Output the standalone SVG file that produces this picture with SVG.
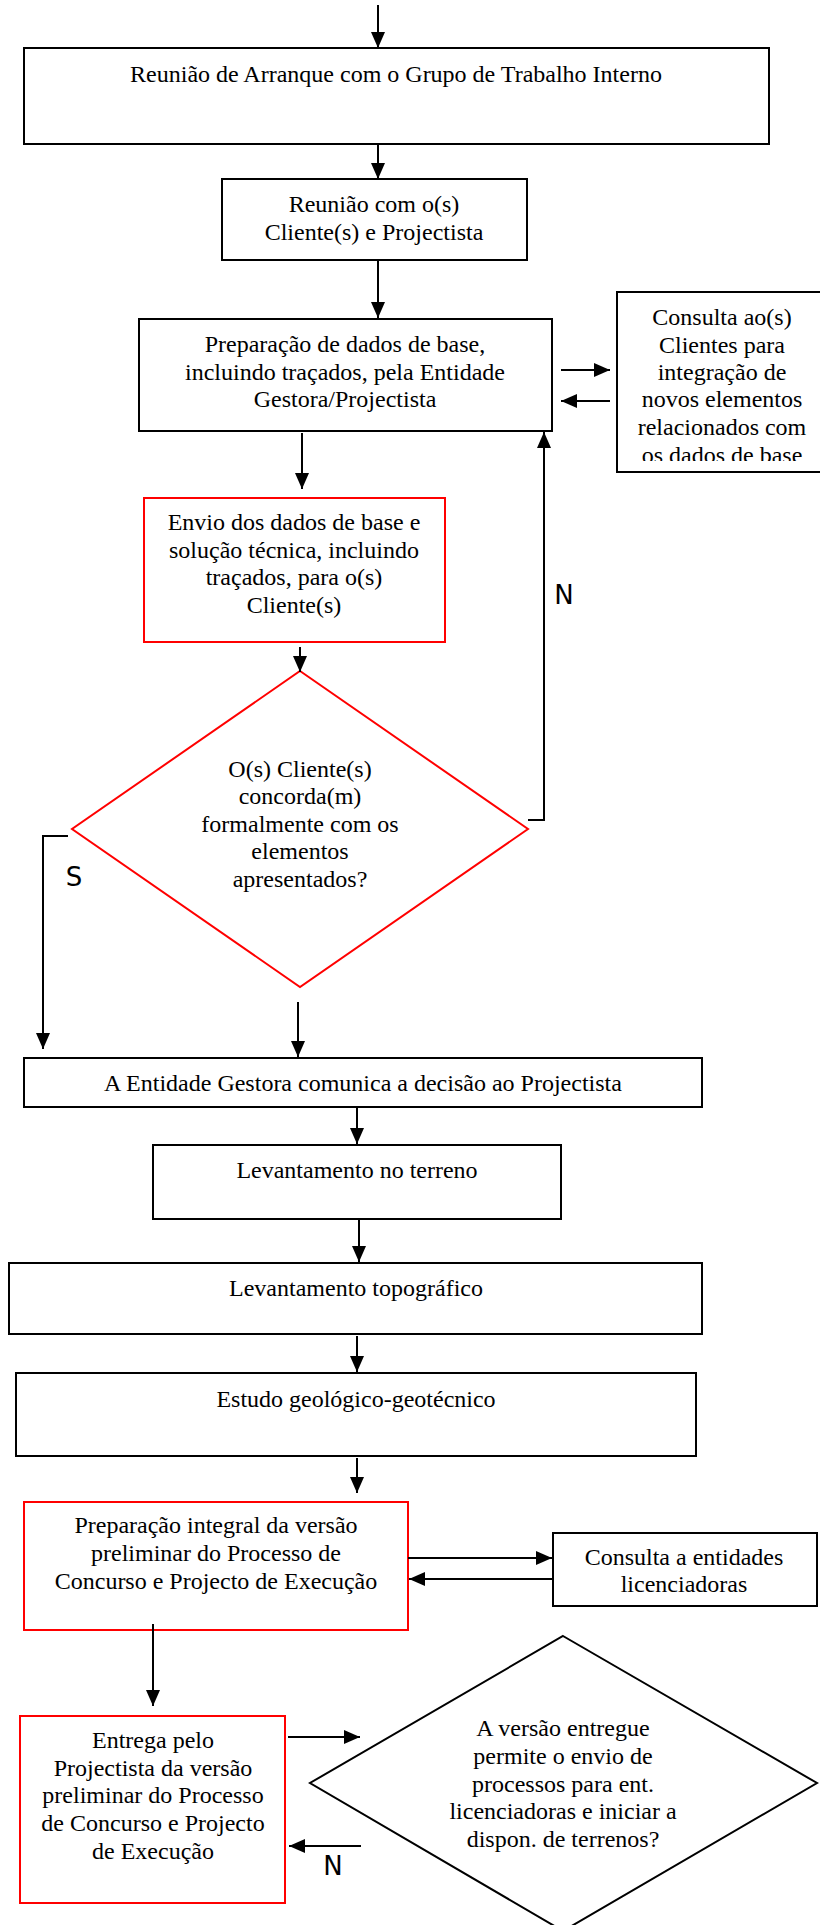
<svg xmlns="http://www.w3.org/2000/svg" width="820" height="1925" viewBox="0 0 820 1925">
<defs>
<style>
.box{fill:#fff;stroke:#000;stroke-width:2}
.rbox{fill:#fff;stroke:#f00;stroke-width:2}
.t{font-family:"Liberation Serif","Times New Roman",serif;font-size:24px;fill:#000;text-anchor:middle}
.lbl{font-family:"DejaVu Sans","Liberation Sans",sans-serif;font-size:26px;fill:#000;text-anchor:middle}
.c{fill:none;stroke:#000;stroke-width:2}
</style>
<marker id="ah" markerUnits="userSpaceOnUse" markerWidth="16" markerHeight="14" refX="16" refY="7" orient="auto">
<path d="M0,0 L16,7 L0,14 z" fill="#000"/>
</marker>
<clipPath id="clipC"><rect x="617" y="292" width="210" height="169"/></clipPath>
</defs>
<rect width="820" height="1925" fill="#fff"/>

<g id="n1">
<rect class="box" x="24" y="48" width="745" height="96"/>
<text class="t" x="396" y="82">Reunião de Arranque com o Grupo de Trabalho Interno</text>
</g>
<g id="n2">
<rect class="box" x="222" y="179" width="305" height="81"/>
<text class="t" x="374" y="212">Reunião com o(s)</text>
<text class="t" x="374" y="240">Cliente(s) e Projectista</text>
</g>
<g id="n3">
<rect class="box" x="139" y="319" width="413" height="112"/>
<text class="t" x="345" y="352">Preparação de dados de base,</text>
<text class="t" x="345" y="380">incluindo traçados, pela Entidade</text>
<text class="t" x="345" y="407">Gestora/Projectista</text>
</g>
<g id="n3b">
<rect class="box" x="617" y="292" width="210" height="180"/>
<g clip-path="url(#clipC)">
<text class="t" x="722" y="325">Consulta ao(s)</text>
<text class="t" x="722" y="353">Clientes para</text>
<text class="t" x="722" y="380">integração de</text>
<text class="t" x="722" y="407">novos elementos</text>
<text class="t" x="722" y="435">relacionados com</text>
<text class="t" x="722" y="463">os dados de base</text>
</g>
</g>
<g id="n4">
<rect class="rbox" x="144" y="498" width="301" height="144"/>
<text class="t" x="294" y="530">Envio dos dados de base e</text>
<text class="t" x="294" y="558">solução técnica, incluindo</text>
<text class="t" x="294" y="585">traçados, para o(s)</text>
<text class="t" x="294" y="613">Cliente(s)</text>
</g>
<g id="d1">
<polygon points="300,671 528,829 300,987 72,829" fill="#fff" stroke="#f00" stroke-width="2"/>
<text class="t" x="300" y="777">O(s) Cliente(s)</text>
<text class="t" x="300" y="804">concorda(m)</text>
<text class="t" x="300" y="832">formalmente com os</text>
<text class="t" x="300" y="859">elementos</text>
<text class="t" x="300" y="887">apresentados?</text>
</g>
<g id="n5">
<rect class="box" x="24" y="1058" width="678" height="49"/>
<text class="t" x="363" y="1091">A Entidade Gestora comunica a decisão ao Projectista</text>
</g>
<g id="n6">
<rect class="box" x="153" y="1145" width="408" height="74"/>
<text class="t" x="357" y="1178">Levantamento no terreno</text>
</g>
<g id="n7">
<rect class="box" x="9" y="1263" width="693" height="71"/>
<text class="t" x="356" y="1296">Levantamento topográfico</text>
</g>
<g id="n8">
<rect class="box" x="16" y="1373" width="680" height="83"/>
<text class="t" x="356" y="1407">Estudo geológico-geotécnico</text>
</g>
<g id="n9">
<rect class="rbox" x="24" y="1502" width="384" height="128"/>
<text class="t" x="216" y="1533">Preparação integral da versão</text>
<text class="t" x="216" y="1561">preliminar do Processo de</text>
<text class="t" x="216" y="1589">Concurso e Projecto de Execução</text>
</g>
<g id="n10">
<rect class="box" x="553" y="1533" width="264" height="73"/>
<text class="t" x="684" y="1565">Consulta a entidades</text>
<text class="t" x="684" y="1592">licenciadoras</text>
</g>
<g id="n11">
<rect class="rbox" x="20" y="1716" width="265" height="187"/>
<text class="t" x="153" y="1748">Entrega pelo</text>
<text class="t" x="153" y="1776">Projectista da versão</text>
<text class="t" x="153" y="1803">preliminar do Processo</text>
<text class="t" x="153" y="1831">de Concurso e Projecto</text>
<text class="t" x="153" y="1859">de Execução</text>
</g>
<g id="d2">
<polygon points="563,1636 817,1783 563,1931 310,1783" fill="#fff" stroke="#000" stroke-width="2"/>
<text class="t" x="563" y="1736">A versão entregue</text>
<text class="t" x="563" y="1764">permite o envio de</text>
<text class="t" x="563" y="1792">processos para ent.</text>
<text class="t" x="563" y="1819">licenciadoras e iniciar a</text>
<text class="t" x="563" y="1847">dispon. de terrenos?</text>
</g>

<g id="connectors">
<line class="c" x1="378" y1="5" x2="378" y2="48" marker-end="url(#ah)"/>
<line class="c" x1="378" y1="144" x2="378" y2="179" marker-end="url(#ah)"/>
<line class="c" x1="378" y1="260" x2="378" y2="318" marker-end="url(#ah)"/>
<line class="c" x1="561" y1="370" x2="610" y2="370" marker-end="url(#ah)"/>
<line class="c" x1="610" y1="401" x2="561" y2="401" marker-end="url(#ah)"/>
<line class="c" x1="302" y1="433" x2="302" y2="489" marker-end="url(#ah)"/>
<line class="c" x1="300" y1="647" x2="300" y2="672" marker-end="url(#ah)"/>
<polyline class="c" points="528,820 544,820 544,432" marker-end="url(#ah)"/>
<polyline class="c" points="68,836 43,836 43,1049" marker-end="url(#ah)"/>
<line class="c" x1="298" y1="1002" x2="298" y2="1057" marker-end="url(#ah)"/>
<line class="c" x1="357" y1="1107" x2="357" y2="1144" marker-end="url(#ah)"/>
<line class="c" x1="359" y1="1219" x2="359" y2="1262" marker-end="url(#ah)"/>
<line class="c" x1="357" y1="1336" x2="357" y2="1372" marker-end="url(#ah)"/>
<line class="c" x1="357" y1="1458" x2="357" y2="1493" marker-end="url(#ah)"/>
<line class="c" x1="408" y1="1558" x2="552" y2="1558" marker-end="url(#ah)"/>
<line class="c" x1="552" y1="1579" x2="409" y2="1579" marker-end="url(#ah)"/>
<line class="c" x1="153" y1="1624" x2="153" y2="1706" marker-end="url(#ah)"/>
<line class="c" x1="288" y1="1737" x2="360" y2="1737" marker-end="url(#ah)"/>
<line class="c" x1="361" y1="1846" x2="289" y2="1846" marker-end="url(#ah)"/>
<text class="lbl" x="564" y="604">N</text>
<text class="lbl" x="74" y="886">S</text>
<text class="lbl" x="333" y="1875">N</text>
</g>
</svg>
